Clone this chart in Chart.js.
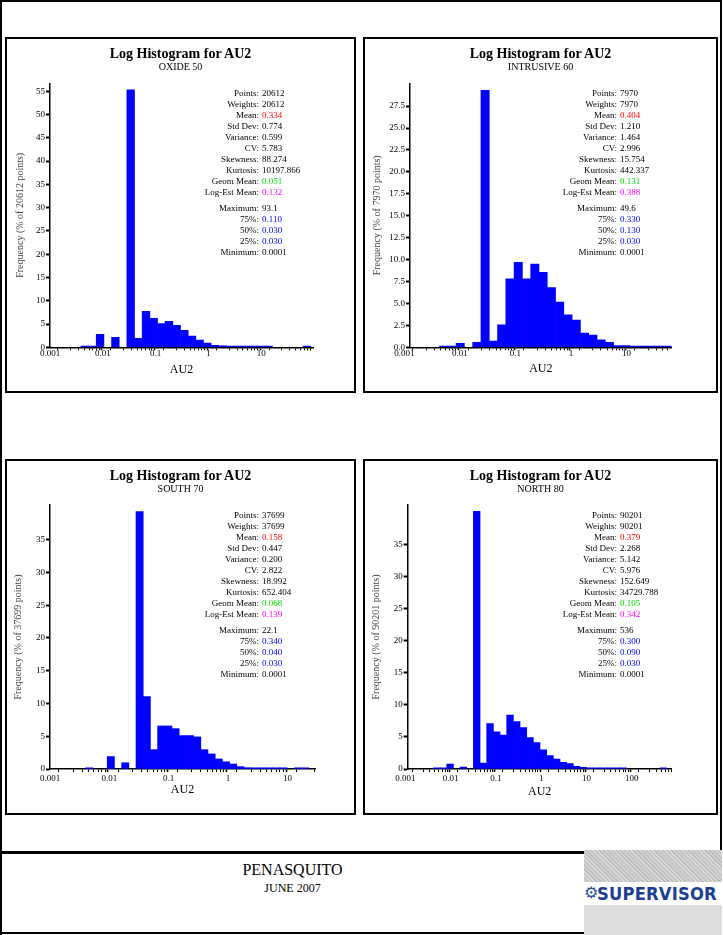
<!DOCTYPE html>
<html>
<head>
<meta charset="utf-8">
<script src="https://cdn.jsdelivr.net/npm/chart.js@4.4.1/dist/chart.umd.min.js"></script>
<style>
html,body{margin:0;padding:0;background:#fff;}
#page{position:relative;width:723px;height:935px;overflow:hidden;font-family:'Liberation Serif','Times New Roman',serif;color:#000;}
.line{position:absolute;background:#000;}
.box{position:absolute;border:2px solid #000;box-sizing:border-box;pointer-events:none;}
.cv{position:absolute;}
.ttl{position:absolute;text-align:center;font-weight:bold;font-size:14px;line-height:16px;white-space:nowrap;}
.sub{position:absolute;text-align:center;font-size:10px;line-height:12px;white-space:nowrap;}
.stats{position:absolute;width:240px;font-size:9px;}
.row{position:relative;height:11px;line-height:11px;white-space:nowrap;}
.row .k{position:absolute;right:120px;top:0;}
.row .v{position:absolute;left:123px;top:0;}
#foot1{position:absolute;left:0;width:585px;top:861px;text-align:center;font-size:16px;line-height:18px;}
#foot2{position:absolute;left:0;width:585px;top:881px;text-align:center;font-size:12px;line-height:14px;}
#logo{position:absolute;left:584px;top:850px;width:138px;height:85px;}
#logoTop{position:absolute;left:0;top:0;width:138px;height:32px;
  background:repeating-linear-gradient(45deg,#bdbdbd 0 1px,#dadada 1px 2px,#c9c9c9 2px 3px);}
#logoMid{position:absolute;left:0;top:32px;width:138px;height:23px;background:#fff;}
#logoBot{position:absolute;left:0;top:55px;width:138px;height:30px;background:#dedede;}
#logoText{position:absolute;left:13px;top:2px;font-family:'DejaVu Sans',sans-serif;font-weight:bold;font-size:18px;line-height:20px;color:#1c3f94;transform:scaleX(0.91);transform-origin:left top;letter-spacing:0.2px;}
#logoGear{position:absolute;left:0px;top:1px;font-family:'DejaVu Sans',sans-serif;font-size:16px;line-height:20px;color:#2a4f9c;}
</style>
</head>
<body>
<div id="page"></div>
<script>
// ---------------- DATA ----------------
const panelTitles = ['Log Histogram for AU2', 'Log Histogram for AU2', 'Log Histogram for AU2', 'Log Histogram for AU2'];
const panelSubtitles = ['OXIDE 50', 'INTRUSIVE 60', 'SOUTH 70', 'NORTH 80'];
const yAxisTitles = ['Frequency (% of 20612 points)', 'Frequency (% of 7970 points)', 'Frequency (% of 37699 points)', 'Frequency (% of 90201 points)'];
const xAxisTitle = 'AU2';

const xTickValues = [0.001, 0.01, 0.1, 1, 10, 100];
const xTickLabels = ['0.001', '0.01', '0.1', '1', '10', '100'];

// OXIDE 50 : histogram bin centres (log-spaced) and frequency (%)
const oxideBinCenters = [0.004545, 0.006346, 0.008862, 0.01237, 0.01728, 0.02412, 0.03368, 0.04703, 0.06569, 0.09173,
  0.1281, 0.1788, 0.2497, 0.3487, 0.4870, 0.6800, 0.9495, 1.326, 1.851, 2.585,
  3.610, 5.041, 7.039, 9.829, 13.72, 19.17, 26.77, 37.37, 52.19, 72.86];
const oxideFreq = [0.05, 0.05, 2.8, null, 2.15, null, 55.3, 1.95, 7.7, 6.2,
  5.1, 5.6, 4.7, 3.65, 2.4, 1.55, 0.9, 0.4, 0.3, 0.15,
  0.05, 0.03, 0.02, 0.02, 0.01, null, null, null, null, 0.01];

// INTRUSIVE 60
const intrusiveBinCenters = [0.005090, 0.007180, 0.01012, 0.01428, 0.02012, 0.02838, 0.04002, 0.05642, 0.07955, 0.1122,
  0.1581, 0.2229, 0.3143, 0.4431, 0.6248, 0.8810, 1.242, 1.751, 2.470, 3.482,
  4.909, 6.922, 9.759, 13.76, 19.40, 27.35, 38.57, 54.38];
const intrusiveFreq = [0.05, 0.05, 0.46, null, 0.57, 29.3, 0.72, 2.55, 7.8, 9.7,
  7.8, 9.5, 8.55, 6.8, 5.17, 3.7, 3.1, 1.63, 1.4, 0.84,
  0.57, 0.19, 0.19, 0.08, 0.04, 0.02, 0.02, 0.01];

// SOUTH 70
const southBinCenters = [0.003464, 0.004579, 0.006056, 0.008008, 0.01059, 0.01400, 0.01851, 0.02447, 0.03236, 0.04278,
  0.05656, 0.07478, 0.09890, 0.1308, 0.1729, 0.2286, 0.3023, 0.3997, 0.5284, 0.6987,
  0.9239, 1.222, 1.615, 2.135, 2.824, 3.734, 4.936, 6.527, 8.630, 11.41,
  15.09, 19.95];
const southFreq = [null, 0.05, null, null, 1.9, null, 0.95, null, 39.3, 11.05,
  2.95, 6.57, 6.57, 6.16, 5.1, 5.1, 4.9, 2.95, 2.3, 1.53,
  1.1, 0.76, 0.36, 0.2, 0.15, 0.08, 0.05, 0.03, 0.02, null,
  0.01, 0.05];

// NORTH 80
const northBinCenters = [0.004907, 0.006889, 0.009670, 0.01357, 0.01905, 0.02675, 0.03755, 0.05271, 0.07399, 0.1039,
  0.1458, 0.2047, 0.2873, 0.4034, 0.5662, 0.7949, 1.116, 1.566, 2.199, 3.087,
  4.333, 6.083, 8.540, 11.99, 16.83, 23.62, 33.17, 46.56, 65.36, 91.73,
  128.8, 180.8, 253.8, 356.2, 500.0];
const northFreq = [0.05, 0.05, 0.78, null, 0.3, null, 40.1, 0.93, 7.06, 5.8,
  5.3, 8.4, 7.4, 6.44, 4.9, 4.1, 3.0, 2.08, 1.56, 1.04,
  0.83, 0.42, 0.26, 0.16, 0.08, 0.05, 0.04, 0.03, 0.01, null,
  null, null, null, null, 0.01];

// Y tick values shown on each panel
const oxideYTicks = [0, 5, 10, 15, 20, 25, 30, 35, 40, 45, 50, 55];
const intrusiveYTicks = [0, 2.5, 5, 7.5, 10, 12.5, 15, 17.5, 20, 22.5, 25, 27.5];
const southYTicks = [0, 5, 10, 15, 20, 25, 30, 35];
const northYTicks = [0, 5, 10, 15, 20, 25, 30, 35];

// Statistics blocks
const statLabels = ['Points:', 'Weights:', 'Mean:', 'Std Dev:', 'Variance:', 'CV:', 'Skewness:', 'Kurtosis:',
  'Geom Mean:', 'Log-Est Mean:', 'Maximum:', '75%:', '50%:', '25%:', 'Minimum:'];
const oxideStats = ['20612', '20612', '0.334', '0.774', '0.599', '5.783', '88.274', '10197.866', '0.051', '0.132', '93.1', '0.110', '0.030', '0.030', '0.0001'];
const intrusiveStats = ['7970', '7970', '0.404', '1.210', '1.464', '2.996', '15.754', '442.337', '0.131', '0.388', '49.6', '0.330', '0.130', '0.030', '0.0001'];
const southStats = ['37699', '37699', '0.158', '0.447', '0.200', '2.822', '18.992', '652.404', '0.068', '0.139', '22.1', '0.340', '0.040', '0.030', '0.0001'];
const northStats = ['90201', '90201', '0.379', '2.268', '5.142', '5.976', '152.649', '34729.788', '0.105', '0.342', '536', '0.300', '0.090', '0.030', '0.0001'];

const footerTitle = 'PENASQUITO';
const footerDate = 'JUNE 2007';

// ---------------- STYLE / LAYOUT ----------------
const statColors = {2: '#ff0000', 8: '#00e000', 9: '#ff00ff', 11: '#0000ff', 12: '#0000ff', 13: '#0000ff'};
const barColor = '#0000ff';

const panels = [
  {centers: oxideBinCenters, freq: oxideFreq, stats: oxideStats, yTicks: oxideYTicks,
   box: {left: 5, top: 37, w: 351, h: 356}, chartLeft: 45, chartRight: 308, chartTop: 46.3, chartBottom: 310.3,
   yTitleX: 15, xTitleY: 333, xLabelPad: -2, xMin: 0.001, xMax: 95, yMax: 56.7, yDec: 0},
  {centers: intrusiveBinCenters, freq: intrusiveFreq, stats: intrusiveStats, yTicks: intrusiveYTicks,
   box: {left: 363, top: 37, w: 355, h: 356}, chartLeft: 47, chartRight: 308.7, chartTop: 46.3, chartBottom: 310.3,
   yTitleX: 14, xTitleY: 332.3, xLabelPad: -2, xMin: 0.00126, xMax: 65, yMax: 30.1, yDec: 1},
  {centers: southBinCenters, freq: southFreq, stats: southStats, yTicks: southYTicks,
   box: {left: 5, top: 459, w: 351, h: 356}, chartLeft: 45, chartRight: 310, chartTop: 46, chartBottom: 310,
   yTitleX: 13, xTitleY: 331, xLabelPad: 1, xMin: 0.001, xMax: 29.2, yMax: 40.3, yDec: 0},
  {centers: northBinCenters, freq: northFreq, stats: northStats, yTicks: northYTicks,
   box: {left: 363, top: 459, w: 355, h: 356}, chartLeft: 44.7, chartRight: 308.7, chartTop: 46, chartBottom: 310,
   yTitleX: 13.7, xTitleY: 332.7, xLabelPad: 1, xMin: 0.00112, xMax: 766, yMax: 41.1, yDec: 0}
];

Chart.defaults.font.family = "'Liberation Serif', 'Times New Roman', serif";
Chart.defaults.color = '#000';

const page = document.getElementById('page');
function el(tag, cls, css, text) {
  const e = document.createElement(tag);
  if (cls) e.className = cls;
  if (css) Object.assign(e.style, css);
  if (text !== undefined) e.textContent = text;
  page.appendChild(e);
  return e;
}

function xLabelFor(v) {
  const i = xTickValues.findIndex(t => Math.abs(t - v) / t < 1e-6);
  return i >= 0 ? xTickLabels[i] : '';
}

function buildLogTicks(axis, min, max) {
  const out = [];
  for (let e = -4; e <= 3; e++) {
    for (let m = 1; m <= 9; m++) {
      const v = parseFloat((m * Math.pow(10, e)).toPrecision(6));
      const isLabel = m === 1 && xTickValues.some(t => Math.abs(t - v) / t < 1e-6);
      if ((v >= min * 0.9999 && v <= max * 1.0001) || (isLabel && v >= min / 1.4 && v <= max)) {
        out.push({value: v, major: m === 1});
      }
    }
  }
  axis.ticks = out;
}

panels.forEach((P, idx) => {
  const b = P.box;
  const cv = document.createElement('canvas');
  cv.className = 'cv';
  cv.width = b.w; cv.height = b.h;
  cv.style.left = b.left + 'px'; cv.style.top = b.top + 'px';
  cv.style.width = b.w + 'px'; cv.style.height = b.h + 'px';
  page.appendChild(cv);

  const data = P.centers.map((x, i) => ({x: x, y: P.freq[i]}));

  new Chart(cv.getContext('2d'), {
    type: 'bar',
    data: {datasets: [{
      data: data,
      backgroundColor: barColor,
      borderWidth: 0,
      barThickness: 'flex',
      categoryPercentage: 1,
      barPercentage: 1,
      minBarLength: 1.2
    }]},
    options: {
      responsive: false,
      animation: false,
      devicePixelRatio: 1,
      layout: {padding: {left: 0, right: b.w - P.chartRight, top: P.chartTop, bottom: 0}},
      plugins: {legend: {display: false}, tooltip: {enabled: false}, title: {display: false}},
      scales: {
        x: {
          type: 'logarithmic',
          position: 'bottom',
          bounds: 'data',
          min: P.xMin, max: P.xMax,
          afterBuildTicks: (axis) => buildLogTicks(axis, P.xMin, P.xMax),
          afterFit: (s) => { s.height = b.h - P.chartBottom; },
          border: {display: true, color: '#000', width: 1.5},
          grid: {display: true, drawOnChartArea: false, drawTicks: true, tickLength: 3, tickColor: '#000',
                 tickWidth: (c) => (c.tick && c.tick.major ? 1.6 : 1)},
          ticks: {autoSkip: false, maxRotation: 0, minRotation: 0, padding: P.xLabelPad,
                  font: {size: 9}, color: '#000', callback: (v) => xLabelFor(v)},
          title: {display: true, text: xAxisTitle, font: {size: 12}, color: '#000',
                  padding: {top: 0, bottom: b.h - P.xTitleY - 7.2}}
        },
        y: {
          type: 'linear',
          position: 'left',
          min: 0, max: P.yMax,
          afterBuildTicks: (axis) => { axis.ticks = P.yTicks.map(v => ({value: v})); },
          afterFit: (s) => { s.width = P.chartLeft; },
          border: {display: true, color: '#000', width: 1.5},
          grid: {display: true, drawOnChartArea: false, drawTicks: true, tickLength: 4, tickColor: '#000', tickWidth: 2},
          ticks: {autoSkip: false, padding: 1, font: {size: 9}, color: '#000',
                  callback: (v) => Number(v).toFixed(P.yDec)},
          title: {display: true, text: yAxisTitles[idx], font: {size: 10}, color: '#444',
                  padding: {top: P.yTitleX - 6, bottom: 0}}
        }
      }
    }
  });

  // frame
  el('div', 'box', {left: b.left + 'px', top: b.top + 'px', width: b.w + 'px', height: b.h + 'px'});
  // titles
  el('div', 'ttl', {left: b.left + 'px', width: b.w + 'px', top: (b.top + 9) + 'px'}, panelTitles[idx]);
  el('div', 'sub', {left: b.left + 'px', width: b.w + 'px', top: (b.top + 23.5) + 'px'}, panelSubtitles[idx]);
  // statistics
  const st = el('div', 'stats', {left: (b.left + 254 - 120) + 'px', top: (b.top + 51) + 'px'});
  statLabels.forEach((lab, i) => {
    const row = document.createElement('div');
    row.className = 'row';
    if (i === 10) row.style.marginTop = '4.6px';
    const k = document.createElement('span'); k.className = 'k'; k.textContent = lab;
    const v = document.createElement('span'); v.className = 'v'; v.textContent = P.stats[i];
    if (statColors[i]) v.style.color = statColors[i];
    row.appendChild(k); row.appendChild(v);
    st.appendChild(row);
  });
});

// page frame
el('div', 'line', {left: '0px', top: '0px', width: '722px', height: '2px'});
el('div', 'line', {left: '0px', top: '0px', width: '2px', height: '935px'});
el('div', 'line', {left: '720px', top: '0px', width: '2px', height: '853px'});
el('div', 'line', {left: '0px', top: '851px', width: '586px', height: '2.5px'});
el('div', 'line', {left: '0px', top: '932px', width: '586px', height: '2px'});

// footer
el('div', null, null, footerTitle).id = 'foot1';
el('div', null, null, footerDate).id = 'foot2';
const logo = el('div', null, null);
logo.id = 'logo';
logo.innerHTML = '<div id="logoTop"></div><div id="logoMid"><span id="logoGear">\u2699</span><span id="logoText">SUPERVISOR</span></div><div id="logoBot"></div>';
</script>
</body>
</html>
